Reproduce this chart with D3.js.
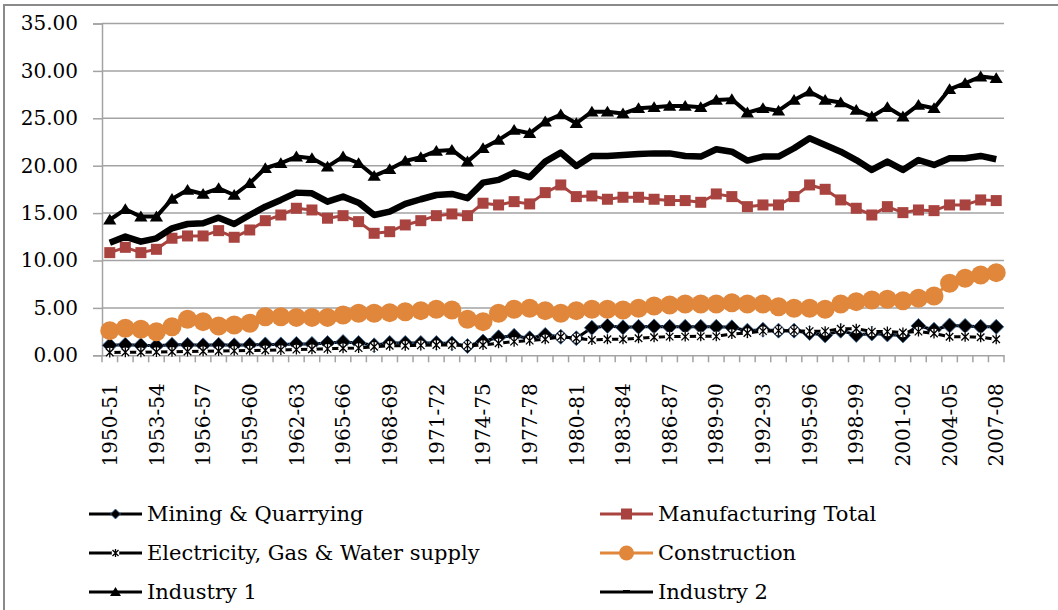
<!DOCTYPE html>
<html>
<head>
<meta charset="utf-8">
<script src="https://cdn.jsdelivr.net/npm/d3@7"></script>
<style>
  body { margin: 0; background: #fff; }
  svg { display: block; font-family: "DejaVu Serif", serif; }
</style>
</head>
<body>
<div id="chart"></div>
<script>
// categories (fiscal years)
let years = ["1950-51","1951-52","1952-53","1953-54","1954-55","1955-56","1956-57","1957-58","1958-59","1959-60",
    "1960-61","1961-62","1962-63","1963-64","1964-65","1965-66","1966-67","1967-68","1968-69","1969-70",
    "1970-71","1971-72","1972-73","1973-74","1974-75","1975-76","1976-77","1977-78","1978-79","1979-80",
    "1980-81","1981-82","1982-83","1983-84","1984-85","1985-86","1986-87","1987-88","1988-89","1989-90",
    "1990-91","1991-92","1992-93","1993-94","1994-95","1995-96","1996-97","1997-98","1998-99","1999-00",
    "2000-01","2001-02","2002-03","2003-04","2004-05","2005-06","2006-07","2007-08"];

let mining = [1.05,1.1,1.05,1.0,1.1,1.1,1.05,1.1,1.05,1.1,1.15,1.15,1.2,1.2,
    1.3,1.4,1.3,1.05,1.3,1.3,1.3,1.3,1.25,0.98,1.45,1.9,2.05,1.8,2.15,1.95,
    1.8,2.9,3.1,2.95,3.0,3.05,3.0,3.0,3.0,3.0,
    2.95,2.6,2.7,2.6,2.6,2.35,2.1,2.6,2.15,2.3,
    2.2,2.1,3.1,2.7,3.15,3.1,3.0,3.0];

let manufacturing = [10.83,11.39,10.83,11.18,12.35,12.59,12.59,13.15,12.45,13.22,
    14.2,14.8,15.51,15.33,14.46,14.73,14.1,12.87,13.04,13.75,
    14.2,14.73,14.91,14.73,16.04,15.86,16.21,15.97,17.16,17.97,
    16.74,16.81,16.46,16.67,16.67,16.46,16.32,16.32,16.14,17.02,
    16.74,15.68,15.86,15.86,16.74,17.97,17.51,16.39,15.51,14.8,
    15.68,15.05,15.33,15.26,15.86,15.86,16.39,16.32];

let electricity = [0.3,0.32,0.33,0.35,0.37,0.4,0.42,0.45,0.47,0.5,
    0.53,0.57,0.6,0.63,0.68,0.74,0.76,0.9,1.0,1.0,
    1.05,1.08,1.08,1.02,1.09,1.27,1.44,1.55,1.69,1.95,
    1.8,1.62,1.69,1.69,1.8,1.9,1.97,1.97,2.0,2.0,
    2.25,2.35,2.55,2.6,2.6,2.55,2.55,2.8,2.8,2.5,
    2.5,2.4,2.5,2.3,1.95,1.95,1.9,1.7];

let construction = [2.6,2.85,2.74,2.49,3.02,3.8,3.55,3.09,3.2,3.38,
    4.07,4.07,4.0,4.0,4.0,4.25,4.43,4.43,4.5,4.6,
    4.71,4.85,4.78,3.8,3.55,4.43,4.85,4.96,4.71,4.43,
    4.71,4.85,4.85,4.78,4.96,5.2,5.31,5.41,5.41,5.41,
    5.55,5.41,5.41,5.13,4.96,4.96,4.85,5.41,5.66,5.83,
    5.91,5.76,6.01,6.26,7.6,8.12,8.47,8.72];

let industry1 = [14.3,15.4,14.63,14.63,16.49,17.44,17.02,17.62,16.91,18.15,
    19.73,20.26,20.96,20.79,19.9,20.96,20.26,18.92,19.62,20.5,
    20.89,21.56,21.66,20.43,21.84,22.72,23.77,23.42,24.65,25.4,
    24.48,25.7,25.7,25.5,26.06,26.17,26.3,26.3,26.17,26.94,
    27.0,25.6,26.06,25.8,26.94,27.8,26.94,26.66,25.88,25.18,
    26.17,25.18,26.41,26.06,28.06,28.7,29.4,29.23];

let industry2 = [11.88,12.52,11.99,12.34,13.4,13.85,13.93,14.52,13.85,14.8,
    15.68,16.39,17.16,17.09,16.21,16.74,16.1,14.8,15.15,15.97,
    16.46,16.91,17.02,16.57,18.21,18.5,19.27,18.78,20.43,21.38,
    19.97,21.03,21.03,21.14,21.24,21.3,21.3,21.03,20.96,21.73,
    21.48,20.54,20.96,20.96,21.84,22.9,22.19,21.48,20.6,19.55,
    20.43,19.55,20.6,20.08,20.78,20.78,21.03,20.68];

let yTicks = [0, 5, 10, 15, 20, 25, 30, 35];
let xLabels = years.filter((d, i) => i % 3 === 0);

let seriesNames = ["Mining & Quarrying", "Manufacturing Total", "Electricity, Gas & Water supply",
    "Construction", "Industry 1", "Industry 2"];

// build series table
let series = [
    { name: seriesNames[0], values: mining, color: "#000", width: 3, marker: "diamond" },
    { name: seriesNames[1], values: manufacturing, color: "#A8433F", width: 3, marker: "square" },
    { name: seriesNames[2], values: electricity, color: "#000", width: 3, marker: "star" },
    { name: seriesNames[3], values: construction, color: "#E0873C", width: 3, marker: "circle" },
    { name: seriesNames[4], values: industry1, color: "#000", width: 4, marker: "triangle" },
    { name: seriesNames[5], values: industry2, color: "#000", width: 6.5, marker: "none" }
];

let width = 1058, height = 610;
let margin = { left: 102, top: 23.5, right: 54, bottom: 254.7 };

let svg = d3.select("#chart").append("svg")
    .attr("width", width)
    .attr("height", height);

svg.append("rect").attr("width", width).attr("height", height).attr("fill", "#fff");

// outer frame (cut off at right and bottom)
svg.append("rect")
    .attr("x", 4).attr("y", 5)
    .attr("width", 1200).attr("height", 800)
    .attr("fill", "none")
    .attr("stroke", "#8a8a8a")
    .attr("stroke-width", 2);

let x = d3.scaleBand()
    .domain(years)
    .range([margin.left, width - margin.right]);

let y = d3.scaleLinear()
    .domain([0, 35])
    .range([height - margin.bottom, margin.top]);

let cx = d => x(d) + x.bandwidth() / 2;

// gridlines
svg.append("g")
    .selectAll("line")
    .data(yTicks.filter(d => d > 0))
    .enter()
    .append("line")
    .attr("x1", margin.left)
    .attr("x2", width - margin.right)
    .attr("y1", d => y(d))
    .attr("y2", d => y(d))
    .attr("stroke", "#a3a3a3")
    .attr("stroke-width", 1.5);

// y axis
let yAxis = svg.append("g")
    .attr("transform", "translate(" + margin.left + ",0)")
    .call(d3.axisLeft(y).tickValues(yTicks).tickFormat(d3.format(".2f")).tickSize(9).tickPadding(15));
yAxis.select(".domain").attr("stroke", "#a3a3a3").attr("stroke-width", 1.5);
yAxis.selectAll(".tick line").attr("stroke", "#a3a3a3").attr("stroke-width", 1.5);
yAxis.selectAll("text").attr("font-size", 20).attr("fill", "#000")
    .attr("font-family", "DejaVu Serif");

// x axis
let xAxis = svg.append("g")
    .attr("transform", "translate(0," + y(0) + ")")
    .call(d3.axisBottom(x).tickValues(xLabels).tickSize(0).tickPadding(0));
xAxis.select(".domain").attr("stroke", "#a3a3a3").attr("stroke-width", 1.5);
xAxis.selectAll("text")
    .attr("font-size", 20)
    .attr("font-family", "DejaVu Serif")
    .attr("fill", "#000")
    .attr("text-anchor", "end")
    .attr("transform", "rotate(-90)")
    .attr("x", -28)
    .attr("y", 0)
    .attr("dy", "0.36em");

// category boundary tick marks
let bounds = years.map(d => x(d)).concat([x.range()[1]]);
svg.append("g")
    .selectAll("line")
    .data(bounds)
    .enter()
    .append("line")
    .attr("x1", d => d).attr("x2", d => d)
    .attr("y1", y(0)).attr("y2", y(0) + 7)
    .attr("stroke", "#a3a3a3")
    .attr("stroke-width", 1.5);

function drawMarker(g, type, color, s) {
    if (type === "diamond") {
        g.append("path")
            .attr("d", "M0," + (-s) + "L" + s + ",0L0," + s + "L" + (-s) + ",0Z")
            .attr("fill", "#000").attr("stroke", "#3b6aa0").attr("stroke-width", 0.8);
    } else if (type === "square") {
        g.append("rect")
            .attr("x", -s).attr("y", -s).attr("width", 2 * s).attr("height", 2 * s)
            .attr("fill", color);
    } else if (type === "circle") {
        g.append("circle").attr("r", s).attr("fill", color);
    } else if (type === "triangle") {
        g.append("path")
            .attr("d", "M0," + (-s) + "L" + (s * 1.1) + "," + (s * 0.8) + "L" + (-s * 1.1) + "," + (s * 0.8) + "Z")
            .attr("fill", "#000");
    } else if (type === "star") {
        g.append("circle").attr("r", s * 0.95).attr("fill", "#fff");
        let a = s * 0.75;
        g.append("path")
            .attr("d", "M0," + (-s) + "V" + s + "M" + (-a) + "," + (-a) + "L" + a + "," + a + "M" + (-a) + "," + a + "L" + a + "," + (-a))
            .attr("stroke", "#000").attr("stroke-width", 1.3).attr("fill", "none");
    }
}

let markerSize = { diamond: 7.5, square: 5.5, circle: 9.5, triangle: 6, star: 5 };

let line = d3.line()
    .x((d, i) => cx(years[i]))
    .y(d => y(d));

series.forEach(s => {
    let g = svg.append("g");
    g.append("path")
        .datum(s.values)
        .attr("d", line)
        .attr("fill", "none")
        .attr("stroke", s.color)
        .attr("stroke-width", s.width)
        .attr("stroke-linejoin", "round");
    if (s.marker !== "none") {
        s.values.forEach((v, i) => {
            let m = g.append("g").attr("transform", "translate(" + cx(years[i]) + "," + y(v) + ")");
            drawMarker(m, s.marker, s.color, markerSize[s.marker]);
        });
    }
});

// legend
let legendPos = [[89, 514], [600, 514], [89, 553], [600, 553], [89, 592], [600, 592]];
let legendOrder = [0, 1, 2, 3, 4, 5];
let legendSize = { diamond: 5, square: 5.5, circle: 7.5, triangle: 5, star: 4 };

legendOrder.forEach((k, j) => {
    let s = series[k];
    let p = legendPos[j];
    let g = svg.append("g").attr("transform", "translate(" + p[0] + "," + p[1] + ")");
    g.append("line")
        .attr("x1", 0).attr("x2", 53)
        .attr("y1", 0).attr("y2", 0)
        .attr("stroke", s.color)
        .attr("stroke-width", 3);
    if (s.marker !== "none") {
        let m = g.append("g").attr("transform", "translate(26.5,0)");
        drawMarker(m, s.marker, s.color, legendSize[s.marker]);
    } else {
        g.append("rect").attr("x", 23).attr("y", -2).attr("width", 7).attr("height", 3).attr("fill", "#000");
    }
    g.append("text")
        .attr("x", 58)
        .attr("y", 0)
        .attr("dy", "0.35em")
        .attr("font-size", 21)
        .attr("font-family", "DejaVu Serif")
        .attr("fill", "#000")
        .text(s.name);
});
</script>
</body>
</html>
